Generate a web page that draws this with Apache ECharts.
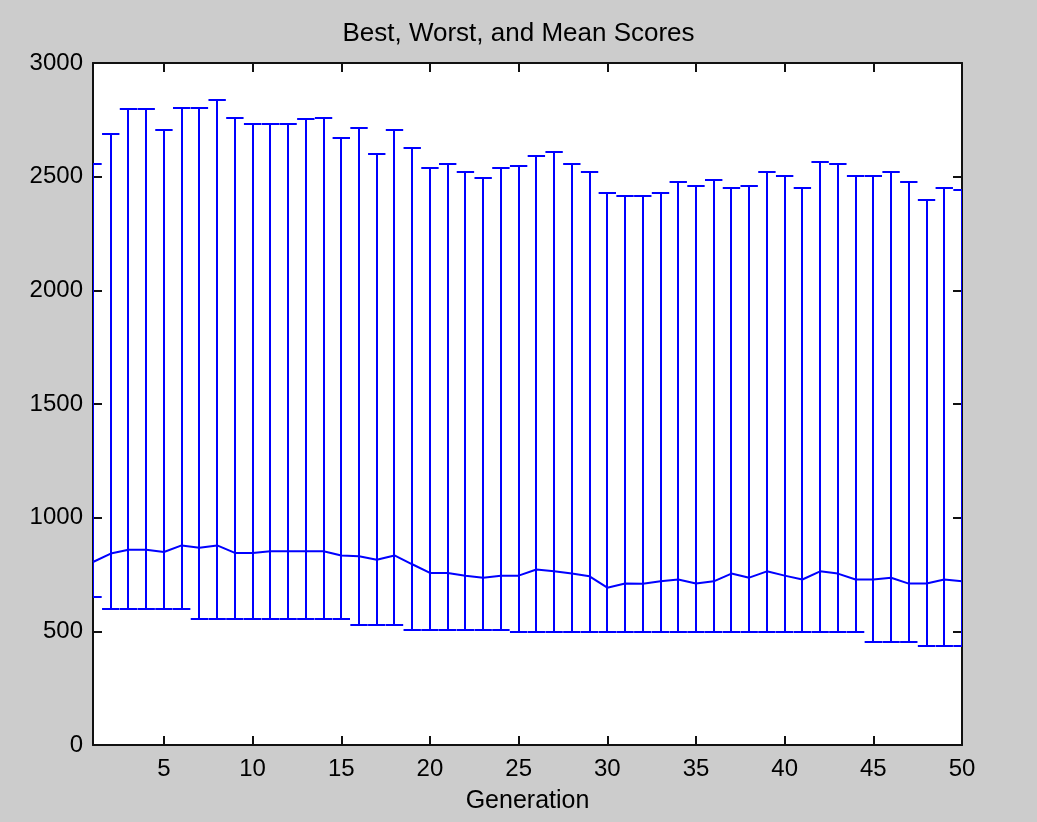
<!DOCTYPE html>
<html>
<head>
<meta charset="utf-8">
<script src="https://cdn.jsdelivr.net/npm/echarts@6/dist/echarts.min.js"></script>
<style>
html,body{margin:0;padding:0;background:#cccccc;}
#chart{width:1037px;height:822px;}
</style>
</head>
<body>
<div id="chart"></div>
<script>
// Generation numbers
var generations = [];
for (var g = 1; g <= 50; g++) generations.push(g);

// Worst (upper) scores per generation
var worstScores = [2557,2686,2796,2796,2705,2803,2803,2838,2759,2730,
  2730,2730,2752,2759,2671,2715,2600,2705,2628,2538,
  2556,2521,2494,2538,2547,2593,2609,2556,2521,2427,
  2415,2415,2426,2477,2459,2486,2449,2459,2521,2503,
  2451,2565,2556,2503,2503,2521,2477,2398,2451,2442];

// Best (lower) scores per generation
var bestScores = [649,597,597,597,597,597,553,553,553,553,
  553,553,553,553,553,526,526,526,506,506,
  506,506,506,506,499,499,499,499,499,499,
  499,499,499,499,499,499,499,499,499,499,
  499,499,499,499,454,454,454,436,436,436];

// Mean scores per generation
var meanScores = [805,842,859,859,849,878,868,878,845,845,
  852,852,852,852,834,830,815,834,795,757,
  757,745,736,745,745,772,764,754,742,692,
  710,709,720,728,710,720,754,736,764,745,
  728,764,754,728,728,736,710,710,728,720];

var xTickValues = [5,10,15,20,25,30,35,40,45,50];
var yTickValues = [0,500,1000,1500,2000,2500,3000];

var errData = generations.map(function(x, i){ return [x, bestScores[i], worstScores[i]]; });
var meanData = generations.map(function(x, i){ return [x, meanScores[i]]; });

var BLUE = '#0000ff';
var FONT = '"Liberation Sans", Arial, Helvetica, sans-serif';
var TEE = 0.49;

var chart = echarts.init(document.getElementById('chart'), null, {renderer:'canvas'});

var axisLineStyle = {color:'#111', width:2};

chart.setOption({
  backgroundColor:'#cccccc',
  animation:false,
  title:{
    text:'Best, Worst, and Mean Scores',
    left:'center', top:16,
    textStyle:{fontFamily:FONT, fontSize:26, fontWeight:'normal', color:'#000'}
  },
  grid:{left:93, right:75, top:63, bottom:77, show:true, backgroundColor:'#ffffff', borderWidth:0},
  xAxis:[{
    type:'value', min:1, max:50, position:'bottom',
    axisLine:{show:true, onZero:false, lineStyle:axisLineStyle},
    axisTick:{show:true, inside:true, length:9, customValues:xTickValues, lineStyle:axisLineStyle},
    axisLabel:{show:true, customValues:xTickValues, margin:12, fontFamily:FONT, fontSize:24, color:'#000',
      formatter:function(v){ return String(v); }},
    splitLine:{show:false},
    name:'Generation', nameLocation:'middle', nameGap:44,
    nameTextStyle:{fontFamily:FONT, fontSize:25, color:'#000'}
  },{
    type:'value', min:1, max:50, position:'top',
    axisLine:{show:true, onZero:false, lineStyle:axisLineStyle},
    axisTick:{show:true, inside:true, length:9, customValues:xTickValues, lineStyle:axisLineStyle},
    axisLabel:{show:false},
    splitLine:{show:false}
  }],
  yAxis:[{
    type:'value', min:0, max:3000, interval:500, position:'left',
    axisLine:{show:true, onZero:false, lineStyle:axisLineStyle},
    axisTick:{show:true, inside:true, length:9, lineStyle:axisLineStyle},
    axisLabel:{show:true, margin:10, fontFamily:FONT, fontSize:24, color:'#000',
      formatter:function(v){ return String(v); }},
    splitLine:{show:false}
  },{
    type:'value', min:0, max:3000, interval:500, position:'right',
    axisLine:{show:true, onZero:false, lineStyle:axisLineStyle},
    axisTick:{show:true, inside:true, length:9, lineStyle:axisLineStyle},
    axisLabel:{show:false},
    splitLine:{show:false}
  }],
  series:[{
    type:'custom',
    xAxisIndex:0, yAxisIndex:0,
    clip:true,
    data:errData,
    encode:{x:0, y:[1,2]},
    renderItem:function(params, api){
      var x = api.value(0), lo = api.value(1), hi = api.value(2);
      var pLo = api.coord([x, lo]);
      var pHi = api.coord([x, hi]);
      var cLoL = api.coord([x - TEE, lo]), cLoR = api.coord([x + TEE, lo]);
      var cHiL = api.coord([x - TEE, hi]), cHiR = api.coord([x + TEE, hi]);
      var cs = params.coordSys;
      var xmin = cs.x, xmax = cs.x + cs.width;
      function cl(v){ return Math.max(xmin, Math.min(xmax, v)); }
      var r = Math.round;
      var style = {stroke:BLUE, lineWidth:2, fill:null};
      var xc = r(pLo[0]);
      return {type:'group', children:[
        {type:'line', shape:{x1:xc, y1:r(pLo[1]), x2:xc, y2:r(pHi[1])}, style:style},
        {type:'line', shape:{x1:cl(cLoL[0]), y1:r(cLoL[1]), x2:cl(cLoR[0]), y2:r(cLoR[1])}, style:style},
        {type:'line', shape:{x1:cl(cHiL[0]), y1:r(cHiL[1]), x2:cl(cHiR[0]), y2:r(cHiR[1])}, style:style}
      ]};
    },
    z:3
  },{
    type:'line',
    xAxisIndex:0, yAxisIndex:0,
    data:meanData,
    showSymbol:false, symbol:'none',
    lineStyle:{color:BLUE, width:2},
    itemStyle:{color:BLUE},
    z:3
  }]
});
</script>
</body>
</html>
